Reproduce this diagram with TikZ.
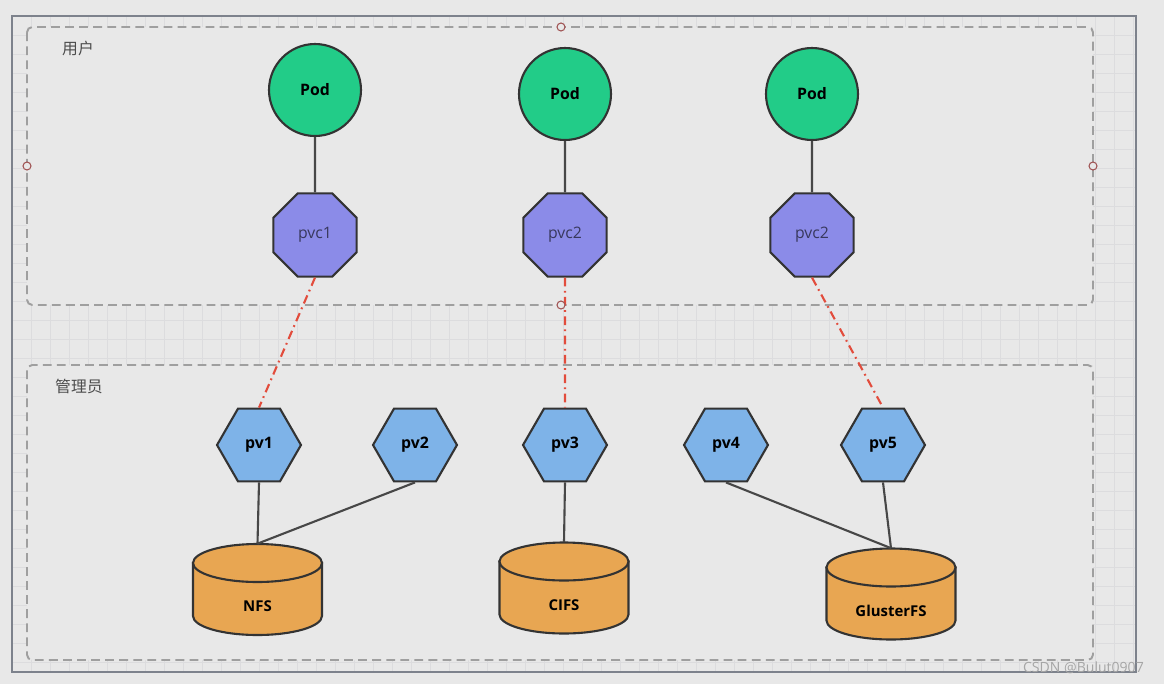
\documentclass[tikz,border=0pt]{standalone}
\usepackage{fontspec}
\setmainfont{Open Sans}
\newfontfamily\cjk{Noto Sans CJK SC}
\usetikzlibrary{shapes.geometric}
\definecolor{podgreen}{RGB}{34,204,136}
\definecolor{pvcviolet}{RGB}{139,139,232}
\definecolor{pvblue}{RGB}{126,179,232}
\definecolor{storeorange}{RGB}{232,166,82}
\definecolor{canvas}{RGB}{232,232,232}
\definecolor{gridline}{RGB}{220,220,222}
\definecolor{edge}{RGB}{51,51,51}
\definecolor{frame}{RGB}{125,130,140}
\definecolor{bindred}{RGB}{226,76,60}
\definecolor{handle}{RGB}{160,84,84}

\begin{document}
\begin{tikzpicture}[x=0.02cm, y=-0.02cm,
  pod/.style={circle, draw=edge, line width=1.2pt, fill=podgreen, minimum size=1.84cm,
    inner sep=0pt, font=\fontsize{9}{10}\selectfont\bfseries},
  pvc/.style={regular polygon, regular polygon sides=8, draw=edge, line width=1.2pt,
    fill=pvcviolet, minimum size=1.8cm, inner sep=0pt, text=pvcviolet!40!black,
    font=\fontsize{9}{10}\selectfont},
  pvnode/.style={regular polygon, regular polygon sides=6, draw=edge, line width=1.2pt,
    fill=pvblue, minimum size=1.68cm, inner sep=0pt, font=\fontsize{9}{10}\selectfont\bfseries},
  storebox/.style={rectangle, minimum width=2.58cm, minimum height=1.82cm, inner sep=0pt},
  storebody/.style={draw=edge, line width=1.2pt, fill=storeorange},
  storelabel/.style={font=\fontsize{8.5}{10}\selectfont\bfseries, inner sep=0pt},
  region/.style={draw=gray!75, line width=1.1pt, dash pattern=on 5pt off 3pt,
    rounded corners=3pt, fill=canvas},
  link/.style={draw=edge!90, line width=1.2pt},
  bind/.style={draw=bindred, line width=1.2pt, dash pattern=on 5pt off 2.5pt on 1pt off 2.5pt},
  grip/.style={draw=handle, fill=canvas, line width=0.6pt}
]
  % canvas and frame
  \fill[canvas] (0,0) rectangle (1164,684);
  \useasboundingbox (0,0) rectangle (1164,684);
  \foreach \gx in {12,31,...,1136} \draw[gridline, line width=0.4pt] (\gx,16) -- (\gx,672);
  \foreach \gy in {16,35,...,672} \draw[gridline, line width=0.4pt] (12,\gy) -- (1136,\gy);
  \draw[frame, line width=1.2pt] (12,16) rectangle (1136,672);

  % user and admin regions
  \path[region] (27,27) rectangle (1093,305);
  \path[region] (27,365) rectangle (1093,660);
  \node[font=\cjk\fontsize{9}{10}\selectfont, text=black!70, anchor=west] (user) at (56,48) {用户};
  \node[font=\cjk\fontsize{9}{10}\selectfont, text=black!70, anchor=west] (admin) at (49,386) {管理员};

  % pods and claims
  \node[pod] (pod1) at (315,90) {Pod};
  \node[pod] (pod2) at (565,94) {Pod};
  \node[pod] (pod3) at (812,94) {Pod};
  \node[pvc] (pvc1) at (315,235) {pvc1};
  \node[pvc] (pvc2) at (565,235) {pvc2};
  \node[pvc] (pvc3) at (812,235) {pvc2};

  % volumes
  \foreach \i/\vx in {1/259, 2/415, 3/565, 4/726, 5/883}
    \node[pvnode] (pv\i) at (\vx,445) {pv\i};

  % storage (cylinders drawn by hand, box node for the links)
  \foreach \s/\cx/\cy/\lab in {nfs/257.5/589.5/NFS, cifs/564/588/CIFS, gfs/891/594/GlusterFS} {
    \node[storebox] (\s) at (\cx,\cy) {};
    \path[storebody] (\cx-64.5,\cy-26.5) -- (\cx-64.5,\cy+26.5)
      arc[start angle=180, end angle=360, x radius=1.29cm, y radius=0.38cm]
      -- (\cx+64.5,\cy-26.5) -- cycle;
    \path[storebody] (\cx,\cy-26.5) ellipse[x radius=1.29cm, y radius=0.38cm];
    \node[storelabel] (\s-label) at (\cx,\cy+17) {\lab};
  }

  % connectors
  \foreach \p in {1,2,3} \draw[link] (pod\p) -- (pvc\p);
  \draw[bind] (pvc1.south) -- (pv1.north);
  \draw[bind] (pvc2.south) -- (pv3.north);
  \draw[bind] (pvc3.south) -- (pv5.north);
  \draw[link] (pv1.south) -- (nfs.north);
  \draw[link] (pv2.south) -- (nfs.north);
  \draw[link] (pv3.south) -- (cifs.north);
  \draw[link] (pv4.south) -- (gfs.north);
  \draw[link] (pv5.south) -- (gfs.north);

  % selection handles
  \foreach \hx/\hy in {561/27, 27/166, 1093/166, 561/305}
    \draw[grip] (\hx,\hy) circle (4);

  \node[font=\fontsize{8}{10}\selectfont, text=gray!70, anchor=east] (mark) at (1150,668) {CSDN @Bulut0907};
\end{tikzpicture}
\end{document}
